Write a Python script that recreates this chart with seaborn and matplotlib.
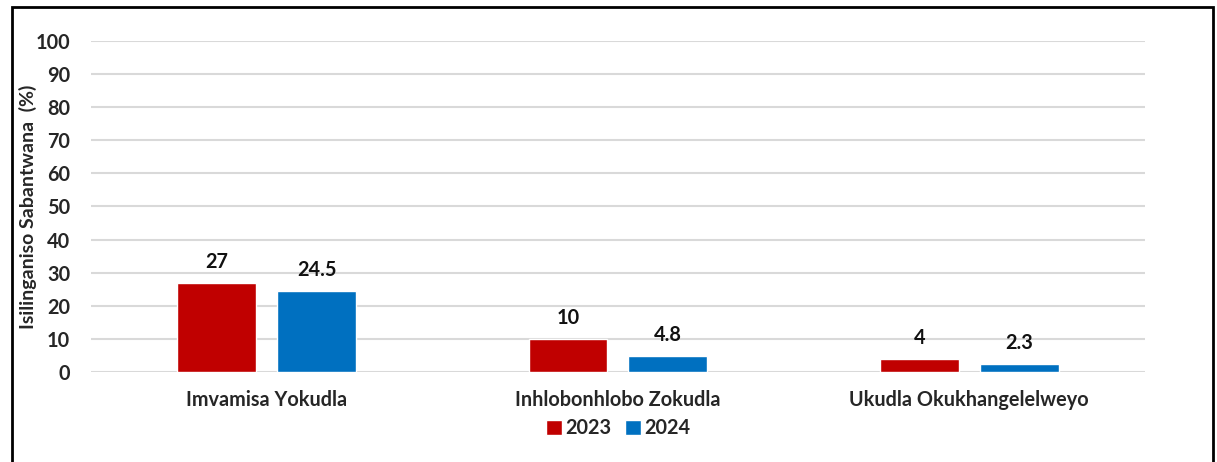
import matplotlib
matplotlib.use("Agg")
import matplotlib.pyplot as plt
from matplotlib.patches import Rectangle
import seaborn as sns
import pandas as pd

categories = ["Imvamisa Yokudla", "Inhlobonhlobo Zokudla", "Ukudla Okukhangelelweyo"]
years = ["2023", "2024"]
values_2023 = [27, 10, 4]
values_2024 = [24.5, 4.8, 2.3]
y_ticks = [0, 10, 20, 30, 40, 50, 60, 70, 80, 90, 100]
y_label = "Isilinganiso Sabantwana  (%)"
palette = {"2023": "#C00000", "2024": "#0070C0"}

df = pd.DataFrame({
    "category": categories * 2,
    "year": [years[0]] * 3 + [years[1]] * 3,
    "value": values_2023 + values_2024,
})

sns.set_theme(style="white")
plt.rcParams["font.family"] = ["Lato", "DejaVu Sans"]
plt.rcParams["font.weight"] = "bold"

FS = 14.3

fig = plt.figure(figsize=(12.17, 4.62), dpi=100)
ax = fig.add_axes([0.0748, 0.1948, 0.866, 0.7165])

sns.barplot(data=df, x="category", y="value", hue="year", order=categories,
            hue_order=years, palette=palette, width=0.569, gap=0.21,
            saturation=1, ax=ax, zorder=3, legend=True)

ax.set_ylim(0, 100)
ax.set_xlim(-0.5, 2.5)
ax.set_yticks(y_ticks)
ax.set_yticklabels([str(t) for t in y_ticks], fontsize=FS, fontweight="bold")
ax.tick_params(axis="y", length=0, pad=15)
ax.tick_params(axis="x", length=0, pad=13)
for lbl in ax.get_xticklabels():
    lbl.set_fontsize(FS)
    lbl.set_fontweight("bold")
ax.set_xlabel("")
ax.set_ylabel(y_label, fontsize=14, fontweight="bold")
ax.yaxis.set_label_coords(-0.0512, 0.5)
ax.grid(axis="y", color="#D9D9D9", linewidth=1.5, zorder=0)
for s in ax.spines.values():
    s.set_visible(False)

for cont in ax.containers:
    ax.bar_label(cont, labels=[f"{v:g}" for v in cont.datavalues],
                 padding=8, fontsize=FS, fontweight="bold", color="#111111")

handles, labels = ax.get_legend_handles_labels()
ax.legend(handles, labels, loc="center", bbox_to_anchor=(0.5, -0.17),
          ncol=2, frameon=False, handlelength=0.8, handleheight=0.8,
          handletextpad=0.15, columnspacing=0.7,
          prop={"weight": "bold", "size": FS})

fig.patches.append(Rectangle((0.0095, -0.1), 0.987, 1.085, transform=fig.transFigure,
                             fill=False, edgecolor="black", linewidth=2))

fig.savefig("out.png", dpi=100)
